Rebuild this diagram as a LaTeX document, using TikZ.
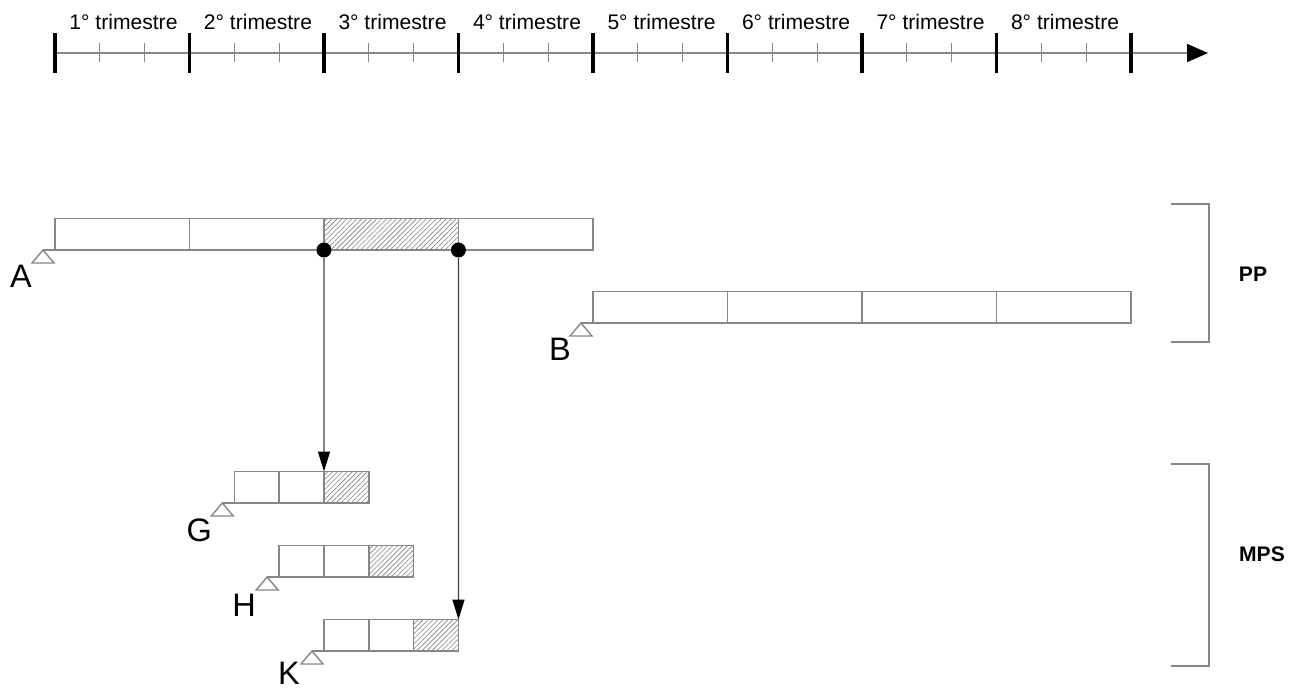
\documentclass[tikz,border=0pt]{standalone}
\usepackage{fontspec}
\setmainfont{Liberation Sans}
\usetikzlibrary{positioning,arrows.meta,patterns.meta}
\definecolor{linegray}{RGB}{135,135,135}
\tikzset{
  boxline/.style={draw=linegray,line width=0.8pt},
  cell/.style={boxline,minimum width=2.69cm,minimum height=0.63cm,inner sep=0pt,outer sep=0pt},
  month/.style={cell,minimum width=0.8967cm},
  hatched/.style={pattern={Lines[angle=45,distance=2pt,line width=0.35pt]},pattern color=gray},
  dot/.style={circle,fill=black,minimum size=0.3cm,inner sep=0pt},
  flow/.style={draw=black!75,line width=0.7pt,-{Triangle[length=0.4cm,width=0.24cm,color=black]}},
  letter/.style={font=\fontsize{18.5}{21}\selectfont,inner sep=0pt},
  trim/.style={font=\fontsize{12}{14}\selectfont,inner sep=0pt},
  group/.style={font=\fontsize{12}{14}\selectfont\bfseries,inner sep=0pt},
  bracket/.style={boxline},
  support/.pic={\draw[boxline] (0,0) -- (-11,13) -- (11,13) -- cycle;}
}
\begin{document}
\begin{tikzpicture}[x=0.02cm,y=-0.02cm]
  \useasboundingbox (0,0) rectangle (1290,690);
  % time axis
  \draw[draw=linegray,line width=0.8pt,-{Triangle[length=0.42cm,width=0.36cm,color=black]}] (55,53) -- (1208,53);
  \foreach \i in {0,...,8}
    \draw[line width=2pt] ({55+\i*134.5},33) -- ++(0,40);
  \foreach \i in {0,...,7} {
    \foreach \j in {1,2}
      \draw[linegray,line width=0.6pt] ({55+\i*134.5+\j*44.8333},43) -- ++(0,19);
    \node[trim] (t\i) at ({123.5+\i*134.5},22) {\the\numexpr\i+1\relax° trimestre};
  }
  % bar A
  \node[cell,anchor=south west] (A1) at (55,250) {};
  \node[cell,right=0pt of A1] (A2) {};
  \node[cell,hatched,right=0pt of A2] (A3) {};
  \node[cell,right=0pt of A3] (A4) {};
  \draw[boxline] (A1.south west) -- ++(-12,0) coordinate (A0);
  \pic at (A0) {support};
  \node[letter] (labA) at ([shift={(-22,26)}]A0) {A};
  % bar B
  \node[cell,anchor=south west] (B1) at (593,323) {};
  \node[cell,right=0pt of B1] (B2) {};
  \node[cell,right=0pt of B2] (B3) {};
  \node[cell,right=0pt of B3] (B4) {};
  \draw[boxline] (B1.south west) -- ++(-12,0) coordinate (B0);
  \pic at (B0) {support};
  \node[letter] (labB) at ([shift={(-21,26)}]B0) {B};
  % short bars
  \foreach \b/\x/\y/\d in {G/234.33/503/27,H/279.17/577/28,K/324/651/22} {
    \node[month,anchor=south west] (\b1) at (\x,\y) {};
    \node[month,right=0pt of \b1] (\b2) {};
    \node[month,hatched,right=0pt of \b2] (\b3) {};
    \draw[boxline] (\b1.south west) -- ++(-12,0) coordinate (\b0);
    \pic at (\b0) {support};
    \node[letter] (lab\b) at ([shift={(-23,\d)}]\b0) {\b};
  }
  % links
  \node[dot] (dA) at (A3.south west) {};
  \node[dot] (dB) at (A3.south east) {};
  \draw[flow] (dA) -- (G3.north west);
  \draw[flow] (dB) -- (K3.north east);
  % groups
  \draw[bracket] (1171,204) -- (1209,204) -- (1209,342) -- (1171,342);
  \draw[bracket] (1171,464) -- (1209,464) -- (1209,666) -- (1171,666);
  \node[group] (pp) at (1253,274) {PP};
  \node[group] (mps) at (1262,554) {MPS};
\end{tikzpicture}
\end{document}
